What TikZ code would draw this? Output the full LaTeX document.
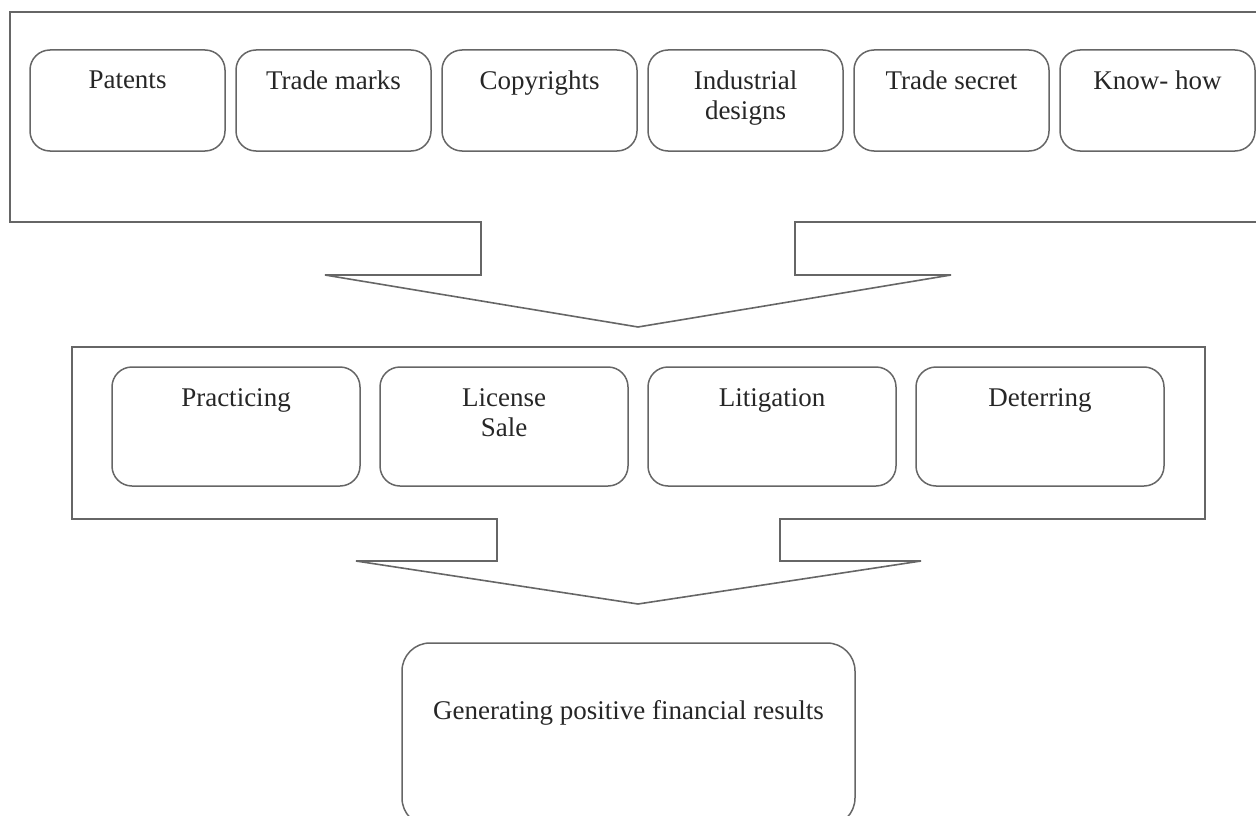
\documentclass[tikz,border=0pt]{standalone}
\usepackage{fontspec}
\setmainfont{Liberation Serif}
\begin{document}
\begin{tikzpicture}[x=1pt,y=-1pt,
  frame/.style={draw=black!60, line width=1.6pt, line join=miter},
  itembox/.style={draw=black!60, line width=1.5pt, rounded corners=20pt, anchor=north west, inner sep=0pt, outer sep=0pt},
  toprow/.style={itembox, minimum width=195pt, minimum height=101pt},
  midrow/.style={itembox, minimum width=248pt, minimum height=119pt},
  itemlabel/.style={anchor=north, inner sep=0pt, align=center, font=\fontsize{27}{30}\selectfont, text=black!85, yshift=-21pt}
]
\useasboundingbox (0,0) rectangle (1256,816);
\clip (0,0) rectangle (1256,816);

% top callout container
\draw[frame] (10,12) -- (1275,12) -- (1275,222) -- (795,222) -- (795,275) -- (951,275)
  -- (638,327) -- (325,275) -- (481,275) -- (481,222) -- (10,222) -- cycle;

% middle callout container
\draw[frame] (72,347) -- (1205,347) -- (1205,519) -- (780,519) -- (780,561) -- (921,561)
  -- (638,604) -- (356,561) -- (497,561) -- (497,519) -- (72,519) -- cycle;

% top row
\node[toprow] (patents) at (30,50) {};
\node[toprow] (trademarks) at (236,50) {};
\node[toprow] (copyrights) at (442,50) {};
\node[toprow] (industrial) at (648,50) {};
\node[toprow] (tradesecret) at (854,50) {};
\node[toprow] (knowhow) at (1060,50) {};
\node[itemlabel] (patentsT) at (patents.north) {Patents};
\node[itemlabel] (trademarksT) at (trademarks.north) {Trade marks};
\node[itemlabel] (copyrightsT) at (copyrights.north) {Copyrights};
\node[itemlabel] (industrialT) at (industrial.north) {Industrial\\designs};
\node[itemlabel] (tradesecretT) at (tradesecret.north) {Trade secret};
\node[itemlabel] (knowhowT) at (knowhow.north) {Know- how};

% middle row
\node[midrow] (practicing) at (112,367) {};
\node[midrow] (license) at (380,367) {};
\node[midrow] (litigation) at (648,367) {};
\node[midrow] (deterring) at (916,367) {};
\node[itemlabel] (practicingT) at (practicing.north) {Practicing};
\node[itemlabel] (licenseT) at (license.north) {License\\Sale};
\node[itemlabel] (litigationT) at (litigation.north) {Litigation};
\node[itemlabel] (deterringT) at (deterring.north) {Deterring};

% result
\node[itembox, rounded corners=28pt, minimum width=453pt, minimum height=183pt] (result) at (402,643) {};
\node[itemlabel, yshift=-36pt] (resultT) at (result.north) {Generating positive financial results};
\end{tikzpicture}
\end{document}
